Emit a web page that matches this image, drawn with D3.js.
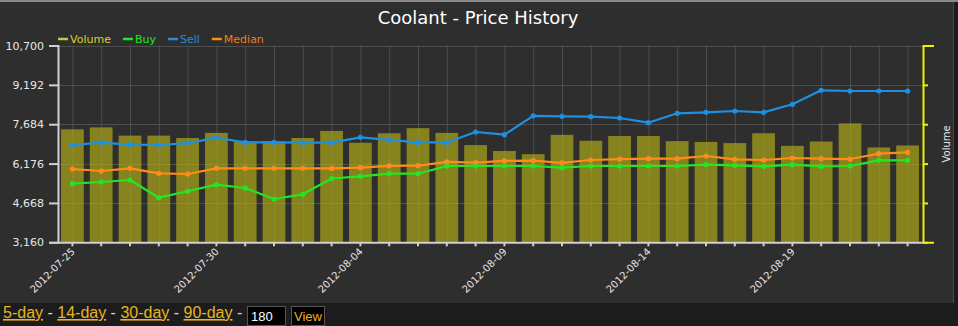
<!DOCTYPE html>
<html><head><meta charset="utf-8">
<script src="https://cdn.jsdelivr.net/npm/d3@7/dist/d3.min.js"></script>
<style>
html,body{margin:0;padding:0;background:#1c1c1c;overflow:hidden;}
svg{display:block;}
</style></head>
<body>
<svg id="c" width="958" height="326"></svg>
<script>
const dates = ["2012-07-25","2012-07-26","2012-07-27","2012-07-28","2012-07-29","2012-07-30","2012-07-31",
"2012-08-01","2012-08-02","2012-08-03","2012-08-04","2012-08-05","2012-08-06","2012-08-07","2012-08-08",
"2012-08-09","2012-08-10","2012-08-11","2012-08-12","2012-08-13","2012-08-14","2012-08-15","2012-08-16",
"2012-08-17","2012-08-18","2012-08-19","2012-08-20","2012-08-21","2012-08-22","2012-08-23"];
const volume = [28.7,29.2,27.1,27.1,26.5,27.8,25.6,25.7,26.5,28.3,25.3,27.7,29.0,27.8,24.7,23.2,22.4,27.3,25.8,27.0,27.0,25.7,25.5,25.2,27.7,24.5,25.6,30.2,24.1,24.6];
const buy = [5405,5470,5547,4869,5114,5367,5240,4819,4999,5605,5688,5788,5788,6083,6083,6083,6083,6019,6083,6083,6083,6083,6133,6108,6070,6133,6070,6083,6301,6301];
const sell = [6888,6976,6899,6888,6960,7167,6991,6991,6976,6976,7182,7085,6985,6985,7386,7283,8005,7987,7972,7922,7742,8102,8140,8190,8140,8447,8983,8956,8956,8956];
const median = [5968,5892,5995,5803,5777,5995,5995,5995,5995,5990,6020,6090,6094,6240,6215,6280,6286,6205,6313,6345,6363,6363,6466,6340,6313,6390,6363,6350,6554,6608];
const priceTicks = [3160,4668,6176,7684,9192,10700];
const volumeTicks = [0,10,20,30,40,50];
const xLabelDates = ["2012-07-25","2012-07-30","2012-08-04","2012-08-09","2012-08-14","2012-08-19"];
const title = "Coolant - Price History";
const legendItems = [["Volume","#c9c43a","#d8d030"],["Buy","#22e622","#22e622"],["Sell","#1f8fe0","#1f8fe0"],["Median","#ff8c1a","#e8801a"]];
const links = ["5-day","14-day","30-day","90-day"];

const svg = d3.select("#c");
const L=58, R=923, T=45.5, B=242.3;
const font = "DejaVu Sans, Verdana, sans-serif";

svg.append("rect").attr("x",0).attr("y",0).attr("width",953).attr("height",303).attr("fill","#2e2e2e");
svg.append("line").attr("x1",953.5).attr("x2",953.5).attr("y1",0).attr("y2",303).attr("stroke","#4a4a4a");
svg.append("line").attr("x1",0).attr("x2",958).attr("y1",1).attr("y2",1).attr("stroke","#8a8a8a").attr("stroke-width",2);

const x = d3.scaleBand().domain(dates).range([L,R-1]).paddingInner(0.21).paddingOuter(0.105);
const y = d3.scaleLinear().domain([3160,10700]).range([B,T]);
const yv = d3.scaleLinear().domain([0,50]).range([B,T]);
const cx = d => x(d)+x.bandwidth()/2;

// grid
const g = svg.append("g");
g.selectAll("line.v").data(dates).join("line").attr("x1",d=>cx(d)+0.5).attr("x2",d=>cx(d)+0.5)
  .attr("y1",T).attr("y2",B).attr("stroke","#4e4e4e").attr("stroke-width",1);
g.selectAll("line.h").data(priceTicks).join("line").attr("class","h").attr("x1",L).attr("x2",R)
  .attr("y1",d=>Math.round(y(d))+0.5).attr("y2",d=>Math.round(y(d))+0.5).attr("stroke","#4e4e4e");

// bars
svg.append("g").selectAll("rect").data(dates).join("rect")
  .attr("x",d=>x(d)).attr("width",x.bandwidth())
  .attr("y",(d,i)=>yv(volume[i])).attr("height",(d,i)=>B-yv(volume[i]))
  .attr("fill","rgb(172,166,24)").attr("fill-opacity",0.7);

// lines
function series(vals,color){
  const line = d3.line().x((d,i)=>cx(dates[i])).y(d=>y(d)).curve(d3.curveLinear);
  svg.append("path").datum(vals).attr("d",line).attr("fill","none").attr("stroke",color).attr("stroke-width",2.2).attr("stroke-linejoin","round");
  svg.append("g").selectAll("circle").data(vals).join("circle")
    .attr("cx",(d,i)=>cx(dates[i])).attr("cy",d=>y(d)).attr("r",2.6).attr("fill",color);
}
series(median,"#ff8c1a");
series(sell,"#1f8fe0");
series(buy,"#22e622");

// left axis
const ya = svg.append("g").attr("transform",`translate(${L},0)`)
  .call(d3.axisLeft(y).tickValues(priceTicks).tickSize(9).tickSizeOuter(9).tickPadding(5).tickFormat(d3.format(",")));
ya.selectAll("path,line").attr("stroke","#d0d0d0").attr("stroke-width",2);
ya.selectAll("text").attr("fill","#e6e6e6").style("font-family",font).style("font-size","11px");

// right axis
const yr = svg.append("g").attr("transform",`translate(${R},0)`)
  .call(d3.axisRight(yv).tickValues(volumeTicks).tickSize(5).tickSizeOuter(11).tickFormat(""));
yr.selectAll("path,line").attr("stroke","#f0f000").attr("stroke-width",2);
svg.append("text").attr("transform",`translate(950,${(T+B)/2}) rotate(-90)`).attr("text-anchor","middle")
  .attr("fill","#e6e6e6").style("font-family",font).style("font-size","10px").text("Volume");

// bottom axis
const xa = svg.append("g").attr("transform",`translate(0,${B})`)
  .call(d3.axisBottom(x).tickSize(4).tickSizeOuter(0).tickFormat(""));
xa.selectAll("path,line").attr("stroke","#d0d0d0").attr("stroke-width",2);
xa.select("path").attr("d",`M${L},0.5H${R}`);
svg.append("g").selectAll("text").data(xLabelDates).join("text")
  .attr("transform",d=>`translate(${cx(d)+3},${B+10}) rotate(-45)`).attr("text-anchor","end")
  .attr("fill","#e6e6e6").style("font-family",font).style("font-size","10px").text(d=>d);

// title
svg.append("text").attr("x",478).attr("y",24).attr("text-anchor","middle").attr("fill","#ffffff")
  .style("font-family",font).style("font-size","18px").text(title);

// legend
let lx = 58;
legendItems.forEach(([name,sw,tc])=>{
  svg.append("line").attr("x1",lx).attr("x2",lx+10).attr("y1",39).attr("y2",39).attr("stroke",sw).attr("stroke-width",2.5);
  const t = svg.append("text").attr("x",lx+12).attr("y",43).attr("fill",tc).style("font-family",font).style("font-size","11px").text(name);
  lx += 12 + t.node().getComputedTextLength() + 12;
});

// bottom controls
const bf = "Liberation Sans, Arial, sans-serif";
let bx = 3;
links.forEach((name,i)=>{
  const t = svg.append("text").attr("x",bx).attr("y",318).attr("fill","#e8b41e").style("font-family",bf).style("font-size","16px")
    .style("text-decoration","underline").text(name);
  bx += t.node().getComputedTextLength();
  const s = svg.append("text").attr("x",bx).attr("y",318).attr("fill","#d8d8d8").style("font-family",bf).style("font-size","16px")
    .attr("xml:space","preserve").style("white-space","pre").text(" - ");
  bx += s.node().getComputedTextLength();
});
svg.append("rect").attr("x",247.5).attr("y",306.5).attr("width",38).attr("height",19).attr("fill","#000").attr("stroke","#555");
svg.append("text").attr("x",251).attr("y",321).attr("fill","#fff").style("font-family",bf).style("font-size","13px").text("180");
svg.append("rect").attr("x",291.5).attr("y",306.5).attr("width",33).attr("height",19).attr("fill","#000").attr("stroke","#555");
svg.append("text").attr("x",308).attr("y",321).attr("text-anchor","middle").attr("fill","#e8b41e").style("font-family",bf).style("font-size","13px").text("View");
</script>
</body></html>
